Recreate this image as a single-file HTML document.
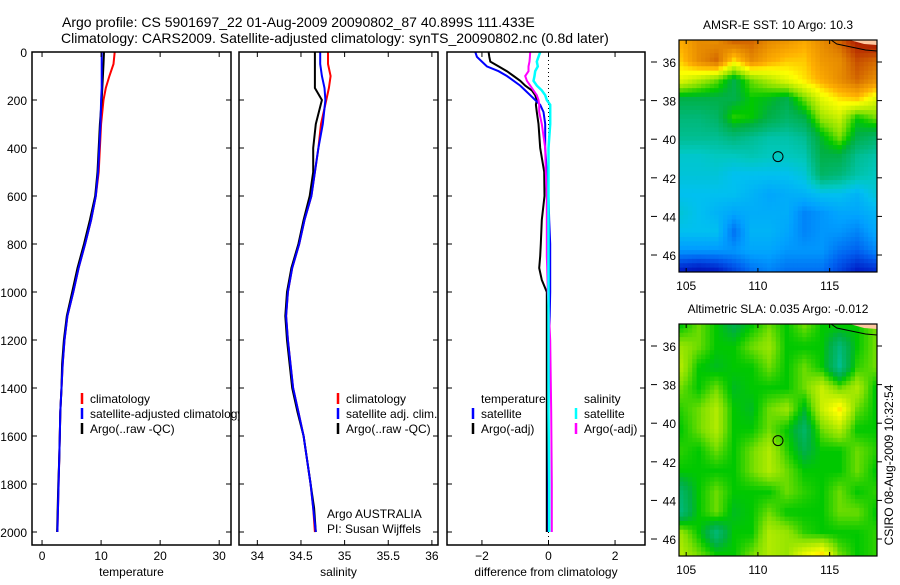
<!DOCTYPE html>
<html><head><meta charset="utf-8"><style>
body{margin:0;background:#fff;}
svg text{font-family:"Liberation Sans",sans-serif;fill:#000;}
</style></head><body>
<svg id="fig" width="900" height="580" xmlns="http://www.w3.org/2000/svg">
<rect width="900" height="580" fill="#fff"/>
<text x="62" y="27" font-size="14">Argo profile: CS 5901697_22 01-Aug-2009 20090802_87 40.899S 111.433E</text>
<text x="61" y="43" font-size="14">Climatology: CARS2009. Satellite-adjusted climatology: synTS_20090802.nc (0.8d later)</text>
<g id="plots"></g>
<text transform="translate(893,465) rotate(-90)" text-anchor="middle" font-size="12">CSIRO 08-Aug-2009 10:32:54</text>
</svg>
<script>
const depths=[0,50,100,150,200,300,400,500,600,700,800,900,1000,1100,1200,1300,1400,1500,1600,1700,1800,1900,2000];
const tempClim=[12.3,12.1,11.4,10.8,10.4,10.0,9.8,9.6,9.1,8.3,7.3,6.2,5.3,4.3,3.8,3.5,3.3,3.1,3.0,2.9,2.8,2.7,2.6];
const tempSat=[10.1,10.1,10.1,10.1,10.0,9.9,9.7,9.5,9.1,8.3,7.3,6.2,5.3,4.3,3.8,3.5,3.3,3.1,3.0,2.9,2.8,2.7,2.6];
const tempArgo=[10.5,10.4,10.3,10.2,10.1,9.8,9.6,9.4,9.0,8.1,7.1,6.0,5.1,4.2,3.7,3.4,3.3,3.1,3.0,2.9,2.75,2.65,2.55];
const salClim=[34.81,34.81,34.84,34.82,34.79,34.73,34.70,34.66,34.62,34.54,34.48,34.40,34.35,34.33,34.35,34.38,34.41,34.47,34.53,34.57,34.61,34.64,34.66];
const salSat=[34.72,34.72,34.74,34.77,34.78,34.75,34.70,34.66,34.62,34.54,34.48,34.40,34.35,34.33,34.35,34.38,34.41,34.47,34.53,34.57,34.61,34.64,34.67];
const salArgo=[34.66,34.66,34.66,34.66,34.74,34.67,34.64,34.64,34.60,34.53,34.47,34.39,34.34,34.32,34.34,34.37,34.40,34.46,34.53,34.57,34.61,34.65,34.67];
const diffDepths=[0,20,40,60,80,100,120,140,160,180,200,220,250,300,400,500,600,700,800,850,900,950,1000,1200,1500,1800,2000];
const dTempSat=[-2.2,-2.15,-2.0,-1.85,-1.5,-1.25,-1.05,-0.85,-0.7,-0.55,-0.4,-0.25,-0.15,-0.1,-0.1,-0.05,0,0.02,0.05,0.05,0.05,0.05,0.05,0.02,0,0,0];
const dTempArgo=[-1.8,-1.78,-1.75,-1.5,-1.25,-1.05,-0.85,-0.7,-0.5,-0.4,-0.35,-0.38,-0.35,-0.3,-0.25,-0.13,-0.12,-0.2,-0.23,-0.25,-0.28,-0.2,-0.05,-0.05,-0.05,-0.05,-0.05];
const dSalSat=[-0.25,-0.3,-0.35,-0.32,-0.4,-0.42,-0.45,-0.35,-0.2,-0.1,-0.05,0.05,0.05,0.05,0,0,0,0,0,0,0,0,0,0,0,0.02,0.02];
const dSalArgo=[-0.55,-0.56,-0.57,-0.6,-0.6,-0.7,-0.65,-0.55,-0.45,-0.35,-0.3,-0.28,-0.28,-0.2,-0.1,-0.08,-0.05,-0.05,-0.05,-0.05,-0.04,-0.03,-0.02,0.05,0.08,0.1,0.1];
const depthTicks=[0,200,400,600,800,1000,1200,1400,1600,1800,2000];
const tempTicks=[0,10,20,30];
const salTicks=[34,34.5,35,35.5,36];
const diffTicks=[-2,0,2];
const sstGrid=[
[0.75,0.8,0.8,0.85,0.85,0.8,0.78,0.75,0.8,0.85,0.95,0.97],
[0.72,0.8,0.85,0.7,0.8,0.75,0.72,0.72,0.78,0.8,0.88,0.85],
[0.65,0.6,0.55,0.45,0.55,0.6,0.65,0.7,0.75,0.8,0.85,0.8],
[0.45,0.45,0.45,0.45,0.5,0.48,0.45,0.55,0.65,0.7,0.72,0.65],
[0.4,0.4,0.42,0.52,0.5,0.45,0.42,0.45,0.58,0.62,0.5,0.55],
[0.38,0.38,0.38,0.4,0.38,0.36,0.36,0.38,0.48,0.56,0.45,0.42],
[0.33,0.33,0.34,0.34,0.35,0.34,0.34,0.35,0.45,0.45,0.38,0.36],
[0.32,0.32,0.32,0.3,0.3,0.3,0.3,0.32,0.42,0.4,0.36,0.34],
[0.3,0.3,0.3,0.3,0.28,0.26,0.27,0.28,0.3,0.3,0.28,0.32],
[0.32,0.3,0.28,0.26,0.27,0.27,0.27,0.22,0.24,0.26,0.26,0.28],
[0.3,0.3,0.3,0.2,0.28,0.28,0.26,0.22,0.24,0.24,0.22,0.26],
[0.24,0.24,0.24,0.24,0.26,0.26,0.24,0.24,0.24,0.2,0.18,0.22],
[0.1,0.08,0.1,0.15,0.2,0.22,0.2,0.2,0.2,0.15,0.1,0.12]];
const slaGrid=[
[.5,.55,.5,.45,.5,.55,.5,.55,.5,.5,.5,.55],
[.58,.55,.5,.5,.55,.58,.5,.5,.5,.4,.5,.55],
[.6,.5,.48,.5,.5,.55,.5,.55,.5,.38,.52,.55],
[.55,.5,.55,.48,.5,.5,.5,.55,.62,.55,.6,.5],
[.52,.55,.6,.5,.48,.55,.58,.48,.62,.7,.55,.5],
[.5,.55,.6,.5,.5,.55,.5,.42,.55,.6,.5,.5],
[.52,.5,.55,.5,.55,.6,.52,.45,.5,.5,.55,.52],
[.5,.5,.5,.5,.55,.6,.55,.5,.5,.5,.55,.5],
[.42,.5,.55,.5,.5,.5,.55,.52,.5,.55,.5,.52],
[.4,.5,.55,.48,.5,.55,.5,.5,.5,.55,.55,.5],
[.58,.5,.4,.5,.5,.6,.58,.52,.5,.5,.5,.52],
[.6,.55,.5,.5,.55,.6,.58,.65,.7,.55,.5,.52]];
const lonTicks=[105,110,115];
const latTicks=[-36,-38,-40,-42,-44,-46];
const argoLon=111.4, argoLat=-40.9;

const NS='http://www.w3.org/2000/svg';
const root=document.getElementById('plots');
function mk(tag,attrs,parent){const e=document.createElementNS(NS,tag);for(const k in attrs)e.setAttribute(k,attrs[k]);(parent||root).appendChild(e);return e;}
function txt(s,x,y,anchor,size,parent){const t=mk('text',{x:x,y:y,'text-anchor':anchor||'start','font-size':size||12},parent);t.textContent=s;return t;}

const T=52,B=545,yD=d=>52+d*0.24;
function panel(name,L,R,xmin,xmax){
  const g=mk('g',{});
  
  
  mk('rect',{x:L,y:T,width:R-L,height:B-T,fill:'#fff'},g);
  return {g:g,L:L,R:R,x:v=>L+(v-xmin)/(xmax-xmin)*(R-L)};
}
function frame(p,xt,xlabel,showY,name){
  const g=p.g;
  mk('rect',{x:p.L,y:T,width:p.R-p.L,height:B-T,fill:'none',stroke:'#000','stroke-width':1.5},g);
  xt.forEach(v=>{const x=p.x(v);mk('line',{x1:x,y1:B,x2:x,y2:B-5,stroke:'#000'},g);mk('line',{x1:x,y1:T,x2:x,y2:T+5,stroke:'#000'},g);
    const t=txt(String(v).replace('-','\u2212'),x,560,'middle',12,g);});
  depthTicks.forEach(d=>{const y=yD(d);mk('line',{x1:p.L,y1:y,x2:p.L+5,y2:y,stroke:'#000'},g);mk('line',{x1:p.R,y1:y,x2:p.R-5,y2:y,stroke:'#000'},g);
    if(showY){const t=txt(String(d),27,y+5,'end',12,g);}});
  const xl=txt(xlabel,(p.L+p.R)/2,576,'middle',12,g);
  
  
}
function line(p,xs,ds,color,name,w){
  const pts=xs.map((v,i)=>p.x(v).toFixed(1)+','+yD(ds[i]).toFixed(1)).join(' ');
  const l=mk('polyline',{points:pts,fill:'none',stroke:color,'stroke-width':w||2},p.g);
  
  
}
function legend(p,x,y,color,label,name){
  if(color) mk('line',{x1:x,y1:y-10,x2:x,y2:y+1,stroke:color,'stroke-width':2.5},p.g);
  const t=txt(label,x+8,y,'start',12,p.g);
  
  
}

const p1=panel('temperature-panel',32,231,-1.7,32);
line(p1,tempClim,depths,'#f00','temperature-climatology-line');
line(p1,tempArgo,depths,'#000','temperature-argo-line');
line(p1,tempSat,depths,'#00f','temperature-satellite-line');
legend(p1,82,403,'#f00','climatology','legend-climatology');
legend(p1,82,418,'#00f','satellite-adjusted climatology','legend-satellite-adjusted');
legend(p1,82,433,'#000','Argo(..raw -QC)','legend-argo-raw');
const p2=panel('salinity-panel',239,438,33.79,36.07);
line(p2,salClim,depths,'#f00','salinity-climatology-line');
line(p2,salArgo,depths,'#000','salinity-argo-line');
line(p2,salSat,depths,'#00f','salinity-satellite-line');
legend(p2,338,403,'#f00','climatology','legend-sal-climatology');
legend(p2,338,418,'#00f','satellite adj. clim.','legend-sal-satellite');
legend(p2,338,433,'#000','Argo(..raw -QC)','legend-sal-argo');
{const a=txt('Argo AUSTRALIA',327,518,'start',12,p2.g);
 const b=txt('PI: Susan Wijffels',327,533,'start',12,p2.g);}
frame(p1,tempTicks,'temperature',true,'temperature');
frame(p2,salTicks,'salinity',false,'salinity');
const p3=panel('difference-panel',447,645,-3.05,2.9);
mk('line',{x1:p3.x(0),y1:T,x2:p3.x(0),y2:B,stroke:'#000','stroke-dasharray':'1,3'},p3.g);
line(p3,dTempArgo,diffDepths,'#000','diff-temperature-argo-line');
line(p3,dTempSat,diffDepths,'#00f','diff-temperature-satellite-line');
line(p3,dSalArgo,diffDepths,'#f0f','diff-salinity-argo-line');
line(p3,dSalSat,diffDepths,'#0ff','diff-salinity-satellite-line',2.5);
legend(p3,473,403,null,'temperature','legend-diff-temperature-header');
legend(p3,473,418,'#00f','satellite','legend-diff-temp-satellite');
legend(p3,473,433,'#000','Argo(-adj)','legend-diff-temp-argo');
legend(p3,576,403,null,'salinity','legend-diff-salinity-header');
legend(p3,576,418,'#0ff','satellite','legend-diff-sal-satellite');
legend(p3,576,433,'#f0f','Argo(-adj)','legend-diff-sal-argo');
frame(p3,diffTicks,'difference from climatology',false,'difference');

const cstops=[[0,[0,0,144]],[0.1,[0,32,200]],[0.18,[0,96,240]],[0.25,[0,160,255]],[0.3,[0,192,240]],[0.34,[0,200,192]],[0.4,[0,184,120]],[0.46,[0,176,64]],[0.5,[0,200,0]],[0.56,[128,224,0]],[0.62,[200,240,0]],[0.68,[255,255,0]],[0.74,[255,176,0]],[0.82,[224,128,0]],[0.9,[192,64,0]],[1,[160,0,0]]];
function cmap(v){v=Math.max(0,Math.min(1,v));for(let i=1;i<cstops.length;i++){if(v<=cstops[i][0]){const a=cstops[i-1],b=cstops[i],t=(v-a[0])/(b[0]-a[0]);return 'rgb('+a[1].map((c,k)=>Math.round(c+(b[1][k]-c)*t)).join(',')+')';}}return 'rgb(160,0,0)';}
function sample(grid,fx,fy){const R=grid.length,C=grid[0].length;const gx=fx*(C-1),gy=fy*(R-1);const x0=Math.floor(gx),y0=Math.floor(gy);const x1=Math.min(C-1,x0+1),y1=Math.min(R-1,y0+1);const tx=gx-x0,ty=gy-y0;
 return (grid[y0][x0]*(1-tx)+grid[y0][x1]*tx)*(1-ty)+(grid[y1][x0]*(1-tx)+grid[y1][x1]*tx)*ty;}
function map(name,top,grid,title){
  const L=679,R=877,H=232,bot=top+H;
  const lon=v=>L+(v-104.5)/(118.3-104.5)*(R-L), lat=v=>top+(-34.86-v)/(-34.86+46.88)*H;
  const g=mk('g',{});
  
  
  const cols=45,rows=53,cw=(R-L)/cols,ch=H/rows;
  for(let j=0;j<rows;j++)for(let i=0;i<cols;i++){
    mk('rect',{x:(L+i*cw).toFixed(2),y:(top+j*ch).toFixed(2),width:(cw+0.4).toFixed(2),height:(ch+0.4).toFixed(2),fill:cmap(sample(grid,i/(cols-1),j/(rows-1)))},g);
  }
  mk('polygon',{points:(lon(116.4))+','+top+' '+R+','+top+' '+R+','+(top+5)+' '+(lon(117.4))+','+(top+4),fill:'#ffc8a0'},g);
  mk('polyline',{points:lon(115.1)+','+top+' '+lon(115.5)+','+(top+4)+' '+lon(116.5)+','+(top+7)+' '+lon(117.5)+','+(top+10)+' '+R+','+(top+11),fill:'none',stroke:'#000','stroke-width':1},g);
  mk('rect',{x:L,y:top,width:R-L,height:H,fill:'none',stroke:'#000','stroke-width':1.2},g);
  lonTicks.forEach(v=>{const x=lon(v);mk('line',{x1:x,y1:top,x2:x,y2:top+4,stroke:'#000'},g);mk('line',{x1:x,y1:bot,x2:x,y2:bot-4,stroke:'#000'},g);
    const t=txt(String(v),x,bot+18,'middle',12,g);});
  latTicks.forEach(v=>{const y=lat(v);mk('line',{x1:R,y1:y,x2:R+5,y2:y,stroke:'#000'},g);mk('line',{x1:651,y1:y,x2:657,y2:y,stroke:'#000'},g);
    const t=txt(String(-v),676,y+5,'end',12,g);});
  const c=mk('circle',{cx:lon(argoLon),cy:lat(argoLat),r:5,fill:'none',stroke:'#000','stroke-width':1},g);
  
  
  const t=txt(title,(L+R)/2,top-11,'middle',12,g);
  
  
}
map('sst-map',40,sstGrid,'AMSR-E SST: 10 Argo: 10.3');
map('sla-map',324,slaGrid,'Altimetric SLA: 0.035 Argo: -0.012');
</script>
</body></html>
